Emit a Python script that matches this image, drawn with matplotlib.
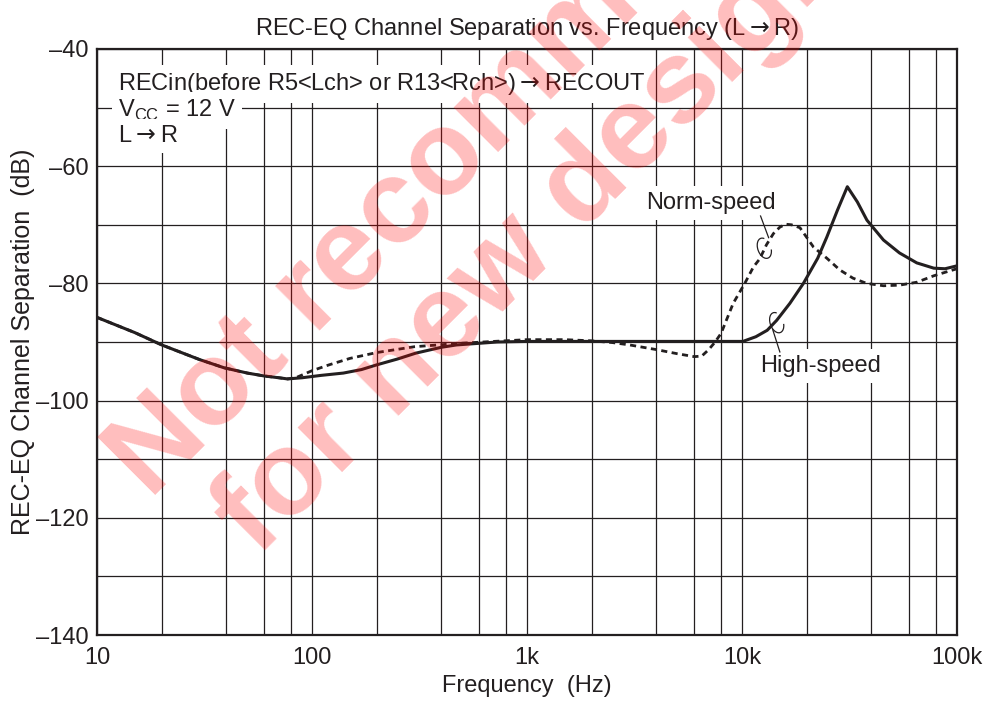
import matplotlib
matplotlib.use("Agg")
import matplotlib.pyplot as plt
import matplotlib.transforms as mtransforms
from matplotlib.patches import Arc
from matplotlib.ticker import FixedLocator, NullFormatter

plt.rcParams['font.family'] = ['Liberation Sans', 'DejaVu Sans']
plt.rcParams['mathtext.fontset'] = 'dejavusans'

# ---- data ----
high_freq = [10, 15, 20, 30, 39, 50, 60, 70, 77, 90, 110, 140, 170, 200, 250, 304, 400, 470,
             727, 1000, 2000, 5000, 10100, 11600, 13100, 14500, 16700, 19300, 22500, 24800,
             27800, 30900, 34400, 38100, 45500, 54000, 65000, 78000, 88000, 100000]
high_db = [-85.8, -88.4, -90.5, -93.0, -94.4, -95.3, -95.8, -96.1, -96.3, -96.1, -95.7, -95.3,
           -94.7, -93.9, -92.9, -91.9, -90.9, -90.5, -90.0, -89.9, -89.9, -89.9, -89.9, -89.1,
           -88.0, -86.3, -83.4, -80.0, -75.7, -72.1, -67.5, -63.5, -66.1, -69.2, -72.6, -74.8,
           -76.5, -77.4, -77.5, -77.0]

norm_freq = [10, 15, 20, 30, 39, 50, 60, 70, 77, 84, 100, 120, 150, 200, 300, 500, 700, 1000,
             1500, 2000, 2500, 3000, 4000, 5000, 6000, 6500, 7000, 7500, 8000, 9100, 10300,
             11300, 12100, 13000, 14000, 15000, 16000, 17000, 18600, 21500, 24800, 28500,
             32800, 38000, 45500, 54000, 65000, 78000, 90000, 100000]
norm_db = [-85.8, -88.4, -90.5, -93.0, -94.4, -95.3, -95.8, -96.1, -96.3, -96.1, -94.9, -93.9,
           -92.8, -91.8, -90.8, -90.2, -89.9, -89.6, -89.6, -89.8, -90.1, -90.5, -91.3, -92.0,
           -92.5, -92.4, -91.3, -90.0, -88.5, -83.4, -80.0, -77.2, -75.8, -73.4, -71.5, -70.4,
           -69.9, -70.0, -70.5, -73.8, -75.7, -77.7, -79.1, -80.0, -80.4, -80.3, -79.8, -78.7,
           -78.0, -77.5]

x_ticks = [10, 100, 1000, 10000, 100000]
x_ticklabels = ['10', '100', '1k', '10k', '100k']
x_minor = [20, 40, 60, 80, 200, 400, 600, 800, 2000, 4000, 6000, 8000,
           20000, 40000, 60000, 80000]
y_ticks = [-40, -60, -80, -100, -120, -140]
y_ticklabels = ['\u201340', '\u201360', '\u201380', '\u2013100', '\u2013120', '\u2013140']
y_minor = [-50, -70, -90, -110, -130]

INK = '#231f20'
FS = 17
ARROW = r'$\rightarrow$'

fig = plt.figure(figsize=(9.89, 7.05), dpi=100)
ax = fig.add_axes([97/989, 1-635/705, 860/989, 586/705])
ax.set_xscale('log')
ax.set_xlim(10, 100000)
ax.set_ylim(-140, -40)

ax.xaxis.set_major_locator(FixedLocator(x_ticks))
ax.set_xticklabels(x_ticklabels)
ax.xaxis.set_minor_locator(FixedLocator(x_minor))
ax.xaxis.set_minor_formatter(NullFormatter())
ax.set_yticks(y_ticks)
ax.set_yticklabels(y_ticklabels)
ax.yaxis.set_minor_locator(FixedLocator(y_minor))
ax.tick_params(which='both', length=0, labelsize=FS, colors=INK)
ax.tick_params(axis='x', pad=9)
ax.tick_params(axis='y', pad=6)
ax.grid(True, which='both', color=INK, lw=0.9)
for s in ax.spines.values():
    s.set_linewidth(1.6)
    s.set_color(INK)

ax.plot(norm_freq, norm_db, color=INK, lw=2.0, ls=(0, (2.2, 1.6)), zorder=4)
ax.plot(high_freq, high_db, color=INK, lw=2.2, zorder=5)

ax.set_title('REC-EQ Channel Separation vs. Frequency (L' + ARROW + 'R)', fontsize=FS,
             color=INK, pad=10)
ax.set_xlabel('Frequency  (Hz)', fontsize=FS, color=INK, labelpad=4)
ax.set_ylabel('REC-EQ Channel Separation  (dB)', fontsize=18, color=INK, labelpad=1)

bb = dict(facecolor='white', edgecolor='none', pad=4.5)
ax.text(12.5, -47.0, 'RECin(before R5<Lch> or R13<Rch>)' + ARROW + 'RECOUT', fontsize=FS,
        color=INK, va='baseline', ha='left', bbox=bb, zorder=6)
ax.text(12.5, -51.6, r'V$_{\mathregular{CC}}$ = 12 V', fontsize=FS,
        color=INK, va='baseline', ha='left', bbox=bb, zorder=6)
ax.text(12.5, -55.9, 'L' + ARROW + 'R', fontsize=FS,
        color=INK, va='baseline', ha='left', bbox=bb, zorder=6)

ax.text(7180, -66.3, 'Norm-speed', fontsize=FS, color=INK, ha='center', va='center',
        bbox=bb, zorder=6)
ax.text(23100, -94.1, 'High-speed', fontsize=FS, color=INK, ha='center', va='center',
        bbox=bb, zorder=6)

# leaders
ax.plot([12200, 13300], [-68.5, -72.2], color=INK, lw=0.9, zorder=7)
ax.plot([13900, 15000], [-87.9, -91.7], color=INK, lw=0.9, zorder=7)
for (fx, fy) in [(12700, -74.0), (14500, -86.7)]:
    tr = fig.dpi_scale_trans + mtransforms.ScaledTranslation(fx, fy, ax.transData)
    ax.add_patch(Arc((0, 0), 0.13, 0.21, angle=20, theta1=70, theta2=330, transform=tr,
                     color=INK, lw=0.9, zorder=7))

# watermark
wm = dict(fontsize=86, fontweight='bold', color='red', alpha=0.26, rotation=45,
          rotation_mode='anchor', ha='left', va='baseline', zorder=10,
          family=['Liberation Sans', 'DejaVu Sans'])
fig.text(150/989, 1-500/705, 'Not recommended', **wm)
fig.text(257/989, 1-557/705, 'for new designs', **wm)

fig.savefig('out.png', dpi=100)
